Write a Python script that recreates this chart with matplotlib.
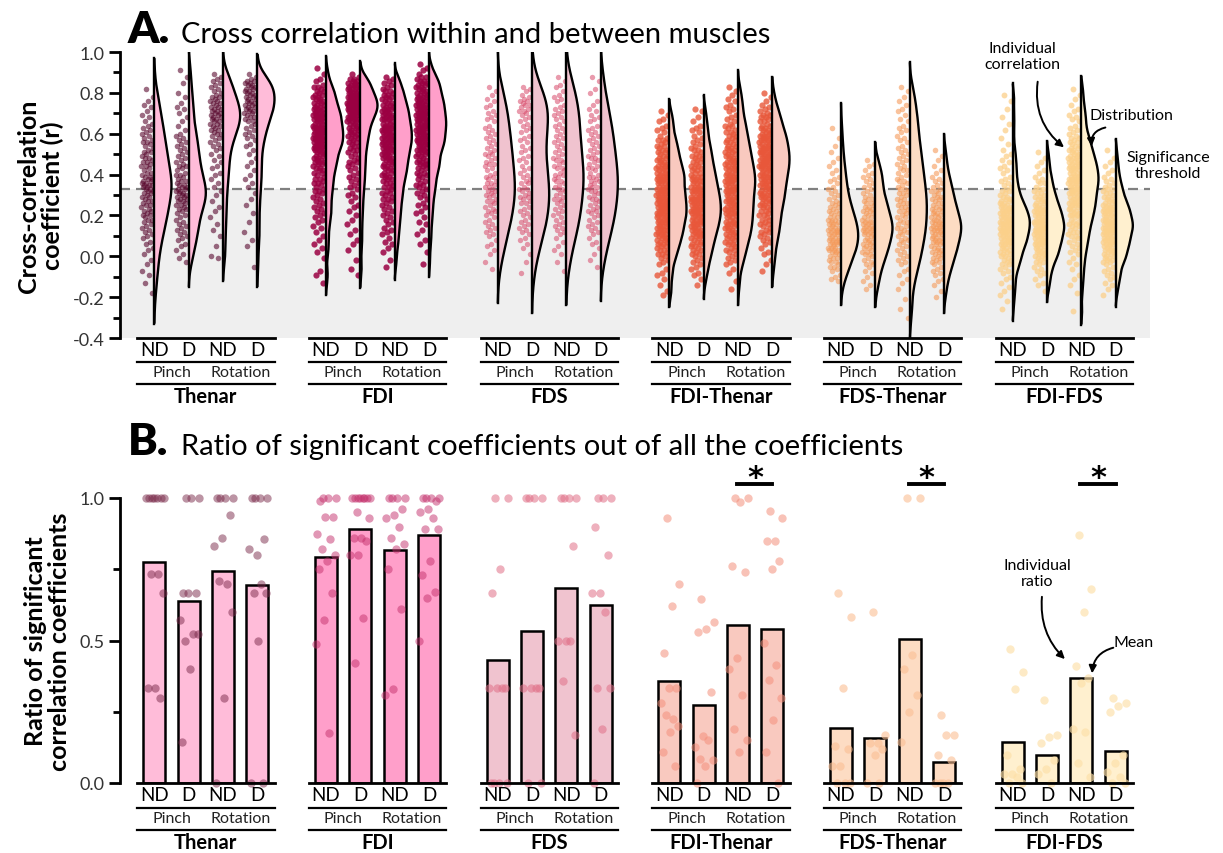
import numpy as np
import matplotlib
matplotlib.use("Agg")
import matplotlib.pyplot as plt
from matplotlib.ticker import MultipleLocator

plt.rcParams['font.family'] = ['Lato', 'DejaVu Sans']
plt.rcParams['axes.unicode_minus'] = False

groups = ['Thenar', 'FDI', 'FDS', 'FDI-Thenar', 'FDS-Thenar', 'FDI-FDS']
conditions = ['ND', 'D', 'ND', 'D']
tasks = ['Pinch', 'Rotation']
threshold = 0.33

# cross-correlation coefficients (x100), order: ND pinch, D pinch, ND rotation, D rotation
thenar_r = [
    [82, 78, 76, 74, 73, 71, 69, 68, 66, 65, 64, 63, 62, 61, 60, 59, 58, 57, 56, 56, 55, 54, 53, 52, 51, 51,
     50, 49, 48, 48, 47, 46, 46, 45, 44, 44, 43, 42, 41, 41, 40, 39, 39, 38, 38, 37, 37, 36, 36, 35, 35, 35,
     34, 34, 33, 33, 32, 32, 31, 31, 30, 29, 29, 28, 27, 27, 26, 25, 25, 24, 23, 22, 22, 21, 20, 20, 19, 18,
     18, 17, 16, 15, 14, 13, 12, 11, 10, 9, 7, 6, 4, 3, 1, -2, -4, -7, -9, -13, -18],
    [91, 88, 85, 80, 78, 75, 73, 72, 70, 68, 66, 64, 62, 60, 59, 58, 57, 56, 55, 54, 53, 52, 51, 50, 49, 48,
     47, 46, 45, 44, 44, 43, 42, 41, 40, 40, 39, 38, 37, 37, 36, 35, 35, 34, 34, 33, 33, 32, 32, 31, 31, 30,
     30, 29, 29, 28, 28, 27, 27, 26, 25, 25, 24, 23, 23, 22, 21, 20, 19, 18, 17, 16, 15, 14, 13, 12, 11, 10,
     9, 8, 6, 5, 3, 1, -1, -3],
    [89, 88, 87, 86, 85, 84, 83, 82, 81, 80, 79, 78, 78, 77, 76, 76, 75, 75, 74, 73, 73, 72, 72, 71, 71, 70,
     70, 69, 69, 68, 68, 67, 67, 66, 66, 65, 65, 64, 64, 63, 62, 62, 61, 60, 60, 59, 58, 57, 56, 55, 54, 53,
     52, 50, 49, 47, 46, 44, 43, 41, 40, 38, 36, 34, 32, 30, 27, 24, 22, 19, 16, 13, 10, 5, 0, -1],
    [89, 88, 87, 86, 86, 85, 85, 84, 84, 83, 83, 82, 82, 81, 81, 80, 80, 79, 79, 78, 78, 77, 77, 76, 76, 75,
     75, 74, 74, 73, 73, 72, 72, 71, 71, 70, 70, 69, 68, 68, 67, 66, 66, 65, 64, 63, 62, 61, 60, 59, 58, 57,
     55, 54, 52, 50, 48, 46, 44, 42, 40, 38, 36, 34, 31, 28, 25, 21, 17, 12, 8, 5, -5],
]
fdi_r = [
    [92, 89, 87, 86, 84, 83, 83, 82, 81, 81, 80, 79, 79, 78, 78, 77, 77, 76, 76, 75, 75, 74, 74, 73, 73, 72,
     72, 72, 71, 71, 70, 70, 70, 69, 69, 69, 68, 68, 68, 67, 67, 67, 66, 66, 66, 65, 65, 64, 64, 64, 63, 63,
     63, 63, 62, 62, 62, 61, 61, 61, 60, 60, 60, 59, 59, 59, 58, 58, 58, 58, 57, 57, 57, 56, 56, 56, 55, 55,
     55, 54, 54, 54, 53, 53, 53, 52, 52, 52, 51, 51, 50, 50, 49, 49, 48, 48, 47, 47, 46, 46, 46, 45, 45, 44,
     43, 43, 42, 42, 41, 41, 40, 39, 38, 38, 37, 36, 36, 35, 34, 33, 32, 32, 31, 30, 29, 28, 27, 26, 25, 24,
     23, 22, 21, 20, 19, 18, 17, 15, 14, 12, 10, 8, 6, 4, 2, -1, -7, -9, -13],
    [89, 88, 87, 87, 86, 86, 85, 85, 84, 84, 84, 83, 83, 82, 82, 82, 81, 81, 80, 80, 80, 79, 79, 79, 78, 78,
     78, 78, 77, 77, 77, 76, 76, 76, 76, 75, 75, 75, 75, 74, 74, 74, 74, 73, 73, 73, 73, 72, 72, 72, 72, 71,
     71, 71, 71, 70, 70, 70, 69, 69, 69, 68, 68, 68, 67, 67, 67, 66, 66, 66, 65, 65, 64, 64, 63, 63, 62, 62,
     61, 61, 60, 60, 59, 59, 58, 58, 57, 56, 56, 55, 54, 54, 53, 52, 52, 51, 50, 49, 48, 47, 46, 46, 45, 44,
     43, 42, 41, 40, 39, 38, 37, 36, 35, 34, 33, 31, 30, 29, 27, 25, 24, 22, 20, 18, 16, 13, 11, 8, 6, 3, -2,
     -6, -9],
    [88, 87, 86, 85, 84, 83, 82, 81, 81, 80, 79, 79, 78, 78, 77, 77, 76, 75, 75, 74, 74, 73, 73, 72, 72, 72,
     71, 71, 70, 70, 69, 69, 69, 68, 68, 67, 67, 67, 66, 66, 65, 65, 64, 64, 64, 63, 63, 63, 62, 62, 62, 61,
     61, 61, 60, 60, 59, 59, 59, 58, 58, 58, 57, 57, 57, 56, 56, 56, 55, 55, 54, 54, 54, 53, 53, 53, 52, 52,
     51, 51, 51, 50, 50, 49, 49, 48, 48, 48, 47, 47, 46, 46, 45, 45, 44, 44, 43, 43, 42, 42, 41, 41, 40, 40,
     39, 39, 38, 38, 37, 36, 36, 35, 34, 34, 33, 32, 31, 31, 30, 29, 28, 28, 27, 26, 25, 24, 23, 22, 21, 20,
     19, 18, 17, 16, 14, 13, 12, 11, 9, 7, 6, 4, 2, -2, -5],
    [94, 92, 91, 89, 88, 88, 87, 86, 86, 85, 85, 84, 84, 83, 83, 82, 82, 81, 81, 80, 80, 79, 79, 78, 78, 78,
     77, 77, 76, 76, 76, 75, 75, 74, 74, 74, 73, 73, 73, 72, 72, 72, 71, 71, 70, 70, 70, 69, 69, 69, 68, 68,
     68, 67, 67, 67, 66, 66, 66, 65, 65, 65, 64, 64, 64, 63, 63, 63, 62, 62, 62, 61, 61, 61, 60, 60, 60, 59,
     59, 58, 58, 58, 57, 57, 57, 56, 56, 56, 55, 55, 55, 54, 54, 53, 53, 52, 52, 52, 51, 51, 50, 50, 49, 49,
     48, 47, 47, 46, 46, 45, 45, 45, 44, 43, 43, 42, 41, 41, 40, 40, 39, 38, 37, 36, 35, 35, 34, 33, 32, 31,
     30, 29, 28, 26, 25, 24, 22, 21, 19, 17, 16, 13, 11, 8, 6, 2, -4],
]
fds_r = [
    [83, 81, 79, 77, 76, 74, 73, 71, 70, 69, 68, 67, 66, 64, 63, 62, 61, 60, 59, 58, 57, 56, 55, 54, 53, 52,
     51, 50, 50, 49, 48, 47, 46, 45, 45, 44, 43, 42, 41, 40, 39, 39, 38, 37, 36, 36, 35, 34, 34, 33, 32, 32,
     31, 30, 30, 29, 28, 27, 27, 26, 25, 24, 23, 22, 22, 21, 20, 19, 18, 17, 16, 15, 14, 13, 12, 11, 10, 8,
     6, 5, 3, 1, -3, -6],
    [83, 82, 81, 79, 78, 77, 76, 76, 75, 74, 74, 73, 72, 71, 71, 70, 69, 68, 67, 66, 65, 64, 63, 62, 61, 59,
     58, 57, 56, 54, 53, 52, 51, 49, 48, 47, 46, 44, 43, 42, 41, 40, 39, 38, 37, 36, 36, 34, 33, 33, 32, 31,
     30, 29, 29, 28, 27, 26, 26, 24, 23, 22, 21, 20, 19, 18, 17, 16, 15, 14, 13, 12, 11, 9, 8, 6, 4, 1, -3,
     -8],
    [88, 86, 84, 83, 81, 79, 78, 77, 76, 74, 73, 72, 71, 70, 69, 68, 67, 66, 65, 64, 63, 62, 61, 60, 59, 58,
     57, 56, 55, 54, 53, 52, 51, 50, 49, 48, 47, 47, 46, 45, 44, 43, 43, 42, 41, 40, 40, 39, 38, 37, 37, 36,
     35, 34, 33, 33, 32, 31, 30, 29, 28, 28, 27, 26, 25, 24, 23, 22, 21, 20, 19, 18, 17, 16, 15, 14, 13, 12,
     11, 9, 7, 5, 3, 1, -3, -7],
    [88, 86, 82, 80, 76, 74, 72, 71, 69, 68, 67, 66, 64, 63, 62, 61, 60, 59, 58, 57, 56, 55, 54, 53, 52, 51,
     50, 49, 48, 48, 47, 46, 45, 44, 43, 43, 42, 41, 40, 39, 39, 38, 37, 37, 36, 35, 34, 34, 33, 32, 32, 31,
     30, 29, 28, 28, 27, 26, 25, 24, 23, 22, 22, 21, 20, 19, 18, 17, 16, 15, 14, 13, 12, 11, 9, 7, 6, 4, 1,
     -2, -5],
]
fdi_thenar_r = [
    [71, 69, 67, 66, 64, 63, 62, 61, 59, 58, 57, 57, 56, 55, 54, 54, 53, 52, 52, 51, 51, 50, 49, 49, 48, 48,
     47, 47, 46, 46, 45, 45, 44, 44, 43, 43, 43, 42, 42, 41, 41, 41, 40, 40, 39, 39, 39, 38, 38, 38, 37, 37,
     37, 36, 36, 36, 35, 34, 34, 34, 33, 33, 33, 32, 32, 32, 31, 31, 31, 30, 30, 29, 29, 29, 28, 28, 28, 27,
     27, 27, 26, 26, 26, 25, 25, 25, 24, 24, 24, 23, 23, 23, 22, 22, 22, 21, 21, 21, 20, 20, 20, 19, 19, 19,
     18, 18, 18, 17, 17, 17, 16, 16, 15, 15, 15, 14, 14, 13, 13, 13, 12, 12, 11, 11, 11, 10, 10, 9, 9, 8, 8,
     7, 7, 6, 6, 5, 5, 4, 3, 3, 2, 1, 1, 0, -1, -2, -3, -4, -6, -8, -9, -11, -14, -17, -19],
    [72, 71, 68, 66, 64, 63, 62, 61, 59, 58, 57, 56, 55, 54, 53, 52, 52, 51, 50, 49, 49, 48, 48, 47, 46, 46,
     45, 44, 44, 43, 43, 42, 42, 41, 41, 40, 39, 39, 39, 38, 38, 37, 37, 37, 36, 36, 35, 34, 34, 34, 33, 33,
     33, 32, 32, 32, 31, 31, 31, 30, 29, 29, 29, 28, 28, 28, 28, 27, 27, 27, 26, 26, 26, 25, 25, 24, 24, 24,
     23, 23, 23, 22, 22, 22, 22, 21, 21, 21, 20, 20, 19, 19, 19, 18, 18, 18, 17, 17, 17, 16, 16, 16, 15, 15,
     14, 14, 13, 13, 13, 12, 12, 11, 11, 11, 10, 10, 9, 9, 8, 7, 7, 6, 6, 5, 5, 4, 3, 3, 2, 1, 1, 0, -1, -2,
     -3, -4, -5, -6, -8, -9, -11, -14],
    [83, 81, 79, 77, 76, 74, 73, 72, 71, 69, 68, 67, 66, 65, 64, 64, 63, 62, 61, 61, 60, 59, 59, 58, 57, 57,
     56, 56, 55, 54, 54, 53, 53, 52, 52, 51, 51, 50, 50, 49, 49, 48, 48, 47, 47, 46, 46, 46, 45, 45, 44, 44,
     43, 43, 43, 42, 42, 41, 41, 41, 40, 40, 39, 39, 39, 38, 38, 38, 37, 37, 37, 36, 36, 36, 35, 34, 34, 34,
     33, 33, 33, 32, 32, 32, 31, 31, 31, 30, 29, 29, 29, 28, 28, 27, 27, 27, 26, 26, 25, 25, 24, 24, 23, 23,
     23, 22, 22, 21, 21, 21, 20, 20, 19, 19, 18, 18, 17, 17, 16, 16, 16, 15, 15, 14, 14, 13, 13, 12, 12, 11,
     11, 10, 10, 9, 9, 8, 7, 7, 6, 6, 5, 4, 3, 3, 2, 1, 0, -1, -2, -3, -4, -6, -8, -12, -16],
    [80, 78, 76, 74, 73, 72, 71, 70, 69, 69, 68, 68, 67, 66, 66, 65, 64, 64, 63, 63, 62, 62, 61, 61, 60, 60,
     59, 59, 59, 58, 58, 58, 57, 57, 57, 56, 56, 55, 55, 54, 54, 54, 53, 53, 53, 52, 52, 52, 51, 51, 51, 50,
     50, 50, 49, 49, 49, 48, 48, 48, 47, 47, 47, 46, 46, 46, 45, 45, 45, 44, 44, 44, 43, 43, 43, 42, 42, 42,
     41, 41, 40, 40, 40, 39, 39, 39, 38, 38, 37, 37, 37, 36, 36, 35, 35, 35, 34, 34, 33, 33, 32, 32, 31, 31,
     30, 30, 30, 29, 29, 28, 28, 27, 27, 26, 26, 25, 25, 24, 24, 23, 22, 22, 21, 20, 20, 19, 18, 18, 17, 16,
     16, 15, 14, 13, 12, 12, 11, 10, 9, 8, 7, 6, 4, 2, 1, -2, -4, -7],
]
fds_thenar_r = [
    [63, 58, 54, 51, 48, 46, 44, 42, 41, 39, 38, 37, 36, 34, 33, 32, 31, 30, 29, 28, 27, 26, 26, 25, 24, 24,
     23, 22, 22, 21, 21, 20, 19, 19, 18, 18, 18, 17, 17, 16, 16, 16, 15, 14, 14, 14, 13, 13, 13, 12, 12, 12,
     11, 11, 11, 10, 9, 9, 9, 8, 8, 8, 7, 7, 7, 6, 6, 6, 5, 4, 4, 4, 3, 3, 3, 2, 2, 1, 1, 0, -1, -1, -2, -3,
     -3, -4, -5, -5, -6, -7, -9, -10, -11, -12],
    [47, 45, 44, 42, 41, 40, 39, 38, 37, 36, 35, 34, 33, 32, 31, 30, 29, 28, 28, 27, 26, 26, 25, 24, 24, 23,
     23, 22, 22, 21, 21, 20, 19, 19, 18, 18, 17, 17, 17, 16, 16, 15, 15, 14, 14, 14, 13, 13, 13, 12, 12, 11,
     11, 11, 10, 9, 9, 8, 8, 7, 7, 6, 6, 5, 5, 4, 4, 3, 2, 2, 1, 1, 0, -1, -2, -3, -4, -4, -5, -7, -8, -10,
     -12, -14, -16],
    [83, 81, 78, 76, 74, 72, 71, 69, 67, 66, 64, 63, 62, 61, 59, 58, 57, 56, 54, 53, 52, 51, 50, 49, 48, 47,
     46, 45, 44, 43, 42, 42, 41, 40, 39, 38, 37, 37, 36, 35, 34, 33, 33, 32, 31, 31, 30, 29, 28, 28, 27, 26,
     26, 25, 24, 24, 23, 22, 22, 21, 20, 19, 19, 18, 17, 17, 16, 15, 14, 14, 13, 12, 12, 11, 10, 9, 8, 8, 7,
     6, 5, 4, 3, 2, 1, 0, -1, -2, -3, -4, -6, -7, -9, -11, -13, -16, -21, -26, -30],
    [52, 49, 47, 44, 42, 41, 39, 38, 37, 36, 35, 34, 33, 32, 32, 31, 30, 29, 29, 28, 28, 27, 26, 26, 25, 24,
     24, 23, 23, 22, 22, 21, 21, 20, 20, 19, 19, 18, 18, 18, 17, 17, 16, 16, 16, 15, 15, 14, 14, 14, 13, 13,
     13, 12, 12, 11, 11, 11, 10, 9, 9, 9, 8, 8, 7, 7, 7, 6, 6, 5, 4, 4, 3, 3, 2, 2, 1, 1, 0, -1, -1, -2, -3,
     -3, -4, -5, -6, -7, -8, -9, -11, -12, -14, -17, -20],
]
fdi_fds_r = [
    [79, 76, 72, 68, 65, 62, 58, 55, 52, 50, 49, 47, 46, 44, 43, 42, 41, 39, 38, 37, 36, 35, 34, 33, 32, 32,
     31, 30, 29, 29, 28, 28, 27, 27, 26, 26, 25, 25, 24, 24, 24, 23, 23, 23, 22, 22, 22, 21, 21, 21, 20, 20,
     19, 19, 19, 19, 18, 18, 18, 18, 17, 17, 17, 16, 16, 16, 16, 15, 15, 14, 14, 14, 14, 13, 13, 13, 12, 12,
     12, 12, 11, 11, 11, 10, 10, 9, 9, 9, 8, 8, 8, 7, 7, 7, 6, 6, 6, 5, 5, 4, 4, 3, 3, 2, 2, 1, 1, 0, 0, -1,
     -2, -2, -3, -4, -4, -5, -6, -7, -8, -10, -11, -13, -15, -17, -19, -22, -26],
    [51, 48, 46, 44, 42, 41, 39, 38, 37, 36, 36, 34, 33, 33, 32, 31, 31, 30, 29, 29, 28, 28, 27, 27, 26, 26,
     25, 25, 24, 24, 23, 23, 23, 22, 22, 22, 21, 21, 21, 20, 20, 19, 19, 19, 18, 18, 18, 17, 17, 17, 17, 16,
     16, 16, 15, 15, 14, 14, 14, 14, 13, 13, 13, 13, 12, 12, 12, 11, 11, 11, 10, 10, 9, 9, 9, 8, 8, 8, 7, 7,
     7, 6, 6, 6, 5, 5, 4, 4, 3, 3, 2, 2, 2, 1, 1, 0, 0, -1, -1, -2, -3, -3, -4, -5, -6, -7, -8, -9, -11, -13,
     -14, -17],
    [82, 79, 77, 74, 72, 71, 69, 68, 67, 66, 64, 63, 62, 61, 60, 59, 58, 58, 57, 56, 56, 55, 54, 54, 53, 53,
     52, 52, 51, 51, 50, 50, 49, 49, 48, 48, 48, 47, 47, 46, 46, 46, 45, 45, 44, 44, 44, 43, 43, 43, 42, 42,
     42, 41, 41, 41, 40, 40, 39, 39, 39, 38, 38, 38, 38, 37, 37, 37, 36, 36, 36, 35, 35, 34, 34, 34, 33, 33,
     33, 32, 32, 32, 31, 31, 31, 30, 30, 29, 29, 28, 28, 28, 27, 27, 26, 26, 26, 25, 25, 25, 24, 24, 23, 23,
     22, 22, 21, 21, 20, 20, 20, 19, 19, 18, 17, 17, 16, 16, 15, 15, 14, 13, 12, 12, 11, 10, 10, 9, 8, 7, 6,
     5, 4, 3, 2, 1, -1, -3, -4, -6, -9, -11, -14, -18, -27],
    [52, 48, 46, 44, 42, 41, 39, 38, 37, 36, 35, 34, 33, 33, 32, 31, 31, 30, 29, 29, 28, 28, 27, 27, 26, 26,
     25, 25, 24, 24, 24, 23, 23, 23, 22, 22, 22, 21, 21, 21, 20, 20, 19, 19, 19, 18, 18, 18, 18, 17, 17, 17,
     16, 16, 16, 16, 15, 15, 14, 14, 14, 14, 13, 13, 13, 13, 12, 12, 12, 11, 11, 11, 10, 10, 9, 9, 9, 8, 8,
     8, 7, 7, 7, 6, 6, 6, 5, 5, 4, 4, 3, 3, 3, 2, 2, 1, 1, 0, 0, -1, -1, -2, -2, -3, -3, -4, -5, -6, -7, -8,
     -9, -10, -11, -13, -14, -16, -19],
]
corr_data = [thenar_r, fdi_r, fds_r, fdi_thenar_r, fds_thenar_r, fdi_fds_r]

# ratio of significant coefficients per participant
thenar_ratio = [[1, 1, 1, 1, 1, 1, 1, .733, .733, .667, .333, .333, .30],
                [1, 1, 1, .667, .667, .667, .571, .524, .5, .524, .4, .143],
                [1, 1, 1, 1, .94, .86, .83, .70, .71, .60, .30, 0],
                [1, 1, 1, 1, .857, .80, .82, .70, .667, .667, .5, 0, 0]]
fdi_ratio = [[1, 1, 1, .99, .933, .933, .875, .857, .82, .80, .78, .75, .667, .571, .488, .176],
             [1, 1, 1, 1, 1, 1, 1, 1, .95, .93, .86, .86, .85, .80, .80, .58, .42],
             [1, 1, 1, 1, .96, .94, .93, .90, .86, .84, .82, .75, .61, .33, .31],
             [1, 1, 1, 1, .99, .96, .95, .93, .89, .89, .78, .73, .67, .65, .5]]
fds_ratio = [[1, 1, .75, .667, .333, .333, .333, .333, 0, 0, 0, 0],
             [1, 1, 1, 1, .333, .333, .333, .333, 0, 0],
             [1, 1, 1, 1, .833, .5, .5, .5, .357, .167],
             [1, 1, 1, .9, .8, .667, .667, .6, .333, .333, .19, 0]]
fdi_thenar_ratio = [[.93, .70, .62, .455, .333, .333, .28, .225, .24, .20, .18, .11, .06],
                    [.645, .565, .54, .53, .32, .165, .125, .15, .085, .08, .058, 0],
                    [1, 1, .985, .76, .74, .44, .40, .31, .19, .15, .11],
                    [.955, .93, .85, .85, .78, .75, .49, .415, .36, .30, .22, .11, 0]]
fds_thenar_ratio = [[.667, .583, .333, .13, .12, .06, .06, 0, 0, 0],
                    [.6, .167, .14, .14, .12, .10, 0, 0],
                    [1, 1, .45, .40, .31, .25, .145],
                    [.24, .17, .17, .10, .08, 0, 0, 0, 0]]
fdi_fds_ratio = [[.47, .39, .33, .10, .05, .03, .03, .02, 0, 0],
                 [.29, .17, .16, .14, .08, .05, .03, 0],
                 [.87, .68, .60, .41, .37, .35, .19, .18, .07, .02],
                 [.30, .28, .27, .25, .10, .07, .04, .02, 0, 0]]
ratio_data = [thenar_ratio, fdi_ratio, fds_ratio, fdi_thenar_ratio, fds_thenar_ratio, fdi_fds_ratio]

ratio_means = [[0.775, 0.638, 0.744, 0.694],
               [0.793, 0.890, 0.817, 0.869],
               [0.430, 0.532, 0.685, 0.623],
               [0.358, 0.273, 0.554, 0.539],
               [0.194, 0.159, 0.506, 0.075],
               [0.144, 0.097, 0.367, 0.113]]

# styling
fill_cols = ['#ffbcd9', '#ff9fca', '#f0c3cf', '#f9c9bf', '#fddcc3', '#fff0cf']
dot_cols = ['#5a0a2f', '#9b0042', '#d84a6a', '#e8573a', '#f59a5a', '#fcd08a']
dot_alpha = [0.6, 0.85, 0.55, 0.8, 0.6, 0.75]
dot_size = [16, 20, 15, 20, 16, 18]
ratio_cols = ['#7a2a4a', '#c4306c', '#e07088', '#f4907c', '#fbbf94', '#fde0a8']
ratio_alpha = [0.5, 0.5, 0.55, 0.55, 0.6, 0.65]
bws = [[0.075, 0.06, 0.055, 0.05],
       [0.03, 0.032, 0.032, 0.03],
       [0.085, 0.1, 0.085, 0.085],
       [0.03, 0.035, 0.04, 0.04],
       [0.06, 0.045, 0.06, 0.04],
       [0.028, 0.028, 0.032, 0.028]]

W, H = 1223, 854
fig = plt.figure(figsize=(W / 100, H / 100), dpi=100)
ax1 = fig.add_axes([120 / W, 1 - 339 / H, 1030 / W, 286 / H])
ax2 = fig.add_axes([120 / W, 1 - 784 / H, 1030 / W, 285 / H])


def spread(n, half):
    return ((np.arange(n) * 0.618034 + 0.37) % 1.0 - 0.5) * 2 * half


def half_violin(ax, pos, vals, bw, fill):
    grid = np.linspace(vals.min() - 2 * bw, vals.max() + 2 * bw, 400)
    dens = np.exp(-0.5 * ((grid[:, None] - vals[None, :]) / bw) ** 2).sum(axis=1)
    dens = dens / dens.max() * 0.5
    ax.fill_betweenx(grid, pos, pos + dens, color=fill, lw=0, zorder=2)
    ax.plot(pos + dens, grid, color='black', lw=1.7, zorder=3, solid_capstyle='butt')
    ax.plot([pos, pos], [grid[0], grid[-1]], color='black', lw=1.7, zorder=3)


def under_labels(ax, y_cond, y_l1, y_task, y_l2, y_name):
    for g, name in enumerate(groups):
        base = g * 5
        for i, c in enumerate(conditions):
            ax.text(base + i, y_cond, c, ha='center', va='center', fontsize=13.5, clip_on=False)
        for y in (y_l1, y_l2):
            ax.plot([base - 0.5, base + 3.5], [y, y], color='black', lw=1.6, clip_on=False)
        for t, task in enumerate(tasks):
            ax.text(base + 0.5 + 2 * t, y_task, task, ha='center', va='center', fontsize=11.5,
                    color='#222222', clip_on=False)
        ax.text(base + 1.5, y_name, name, ha='center', va='center', fontsize=14.5,
                fontweight='bold', clip_on=False)


# ---- panel A
ax1.axhspan(-0.4, threshold, color='#efefef', zorder=0, lw=0)
ax1.axhline(threshold, color='#808080', lw=1.6, ls=(0, (4.5, 2.7)), zorder=1)
for g in range(6):
    for i in range(4):
        pos = g * 5 + i
        vals = np.array(corr_data[g][i]) / 100.0
        xs = pos - 0.21 + spread(len(vals), 0.17)
        ax1.scatter(xs, vals, s=dot_size[g], color=dot_cols[g], alpha=dot_alpha[g], lw=0, zorder=2)
        half_violin(ax1, pos, vals, bws[g][i], fill_cols[g])
    ax1.plot([g * 5 - 0.5, g * 5 + 3.5], [-0.4, -0.4], color='black', lw=2, clip_on=False, zorder=4)

ax1.set_xlim(-1, 29)
ax1.set_ylim(-0.4, 1.0)
ax1.yaxis.set_major_locator(MultipleLocator(0.2))
ax1.yaxis.set_minor_locator(MultipleLocator(0.1))
ax1.set_yticklabels([f'{v:.1f}' for v in ax1.get_yticks()])
ax1.set_ylabel('Cross-correlation\ncoefficient (r)', fontsize=18, fontweight='bold', labelpad=6,
               linespacing=1.05)
under_labels(ax1, -0.454, -0.5175, -0.566, -0.625, -0.684)

# ---- panel B
for g in range(6):
    for i in range(4):
        pos = g * 5 + i
        ax2.bar(pos, ratio_means[g][i], width=0.64, color=fill_cols[g], edgecolor='black', lw=1.8, zorder=2)
        vals = np.array(ratio_data[g][i])
        xs = pos + spread(len(vals), 0.3)
        ax2.scatter(xs, vals, s=36, color=ratio_cols[g], alpha=ratio_alpha[g], lw=0, zorder=3, clip_on=False)
    ax2.plot([g * 5 - 0.5, g * 5 + 3.5], [0, 0], color='black', lw=2, clip_on=False, zorder=4)

# significance markers (rotation ND vs D)
for g in (3, 4, 5):
    x0 = g * 5 + 2
    ax2.plot([x0 - 0.03, x0 + 1.0], [1.05, 1.05], color='black', lw=2.8, clip_on=False)
    ax2.text(x0 + 0.5, 1.072, '*', ha='center', va='center', fontsize=22, fontweight='bold',
             family='DejaVu Sans')

ax2.set_xlim(-1, 29)
ax2.set_ylim(0, 1.0)
ax2.yaxis.set_major_locator(MultipleLocator(0.5))
ax2.yaxis.set_minor_locator(MultipleLocator(0.25))
ax2.set_yticklabels([f'{v:.1f}' for v in ax2.get_yticks()])
ax2.set_ylabel('Ratio of significant\ncorrelation coefficients', fontsize=18, fontweight='bold',
               labelpad=6, linespacing=1.05)
under_labels(ax2, -0.042, -0.088, -0.123, -0.165, -0.207)

for ax in (ax1, ax2):
    for s in ('top', 'right', 'bottom'):
        ax.spines[s].set_visible(False)
    ax.spines['left'].set_linewidth(2)
    ax.set_xticks([])
    ax.tick_params(axis='y', which='major', length=8, width=2, labelsize=13, labelcolor='#333333', pad=3)
    ax.tick_params(axis='y', which='minor', length=5, width=2)
    ax.set_facecolor('none')

# annotations
arrow = dict(arrowstyle='-|>,head_width=0.22,head_length=0.45', color='black', lw=1.4)
ax1.text(25.27, 0.98, 'Individual\ncorrelation', ha='center', va='center', fontsize=11.5, linespacing=1.2)
ax1.annotate('', xy=(26.56, 0.525), xytext=(25.74, 0.868),
             arrowprops=dict(arrow, connectionstyle='arc3,rad=0.3'))
ax1.text(28.45, 0.69, 'Distribution', ha='center', va='center', fontsize=11.5)
ax1.annotate('', xy=(27.31, 0.525), xytext=(27.78, 0.633),
             arrowprops=dict(arrow, connectionstyle='arc3,rad=0.5'))
ax1.text(29.53, 0.447, 'Significance\nthreshold', ha='center', va='center', fontsize=11.5, linespacing=1.2)

ax2.text(25.71, 0.737, 'Individual\nratio', ha='center', va='center', fontsize=11.5, linespacing=1.2)
ax2.annotate('', xy=(26.58, 0.428), xytext=(25.86, 0.663),
             arrowprops=dict(arrow, connectionstyle='arc3,rad=0.25'))
ax2.text(28.51, 0.495, 'Mean', ha='center', va='center', fontsize=11.5)
ax2.annotate('', xy=(27.31, 0.375), xytext=(28.01, 0.477),
             arrowprops=dict(arrow, connectionstyle='arc3,rad=0.4'))

# panel titles
fig.text(128 / W, 1 - 43 / H, 'A.', fontsize=32, fontweight='heavy', va='baseline')
fig.text(181 / W, 1 - 43 / H, 'Cross correlation within and between muscles', fontsize=21, va='baseline')
fig.text(128 / W, 1 - 455 / H, 'B.', fontsize=32, fontweight='heavy', va='baseline')
fig.text(181 / W, 1 - 455 / H, 'Ratio of significant coefficients out of all the coefficients', fontsize=21,
         va='baseline')

fig.savefig('out.png', dpi=100)
